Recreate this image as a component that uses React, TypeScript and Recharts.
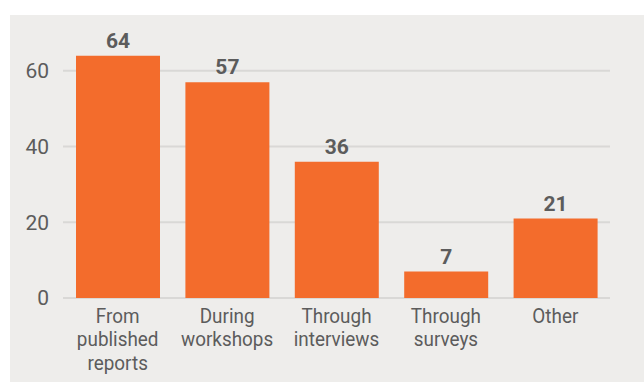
import React from 'react';
import { BarChart, Bar, XAxis, YAxis, CartesianGrid, LabelList } from 'recharts';

const categories = ['From published reports', 'During workshops', 'Through interviews', 'Through surveys', 'Other'];
const categoryLines = [
  ['From', 'published', 'reports'],
  ['During', 'workshops'],
  ['Through', 'interviews'],
  ['Through', 'surveys'],
  ['Other'],
];
const counts = [64, 57, 36, 7, 21];
const yTicks = [0, 20, 40, 60];
const yMax = 70;

const FONT = '"Roboto", sans-serif';
const TEXT = '#5c5c5c';

const data = categories.map((name, i) => ({ name, count: counts[i] }));

// category labels are narrow in the original, squeeze them a bit
const CategoryTick = (props: any) => {
  const { x, y, payload } = props;
  const lines = categoryLines[payload.index] || [payload.value];
  return (
    <g transform={`translate(${x},${y}) scale(0.9,1)`}>
      <text x={0} y={0} textAnchor="middle" fill={TEXT} fontSize={21} fontFamily={FONT}>
        {lines.map((l, i) => (
          <tspan key={i} x={0} dy={i === 0 ? 17 : 23.5}>{l}</tspan>
        ))}
      </text>
    </g>
  );
};

// only draw grid lines at the labelled ticks (no line at the domain top)
const gridRows = ({ offset }: any) =>
  yTicks.map((v) => offset.top + offset.height * (1 - v / yMax));

const App: React.FC = () => {
  return (
    <div style={{ position: 'fixed', left: 0, top: 0, width: 644, height: 382, background: '#fff' }}>
      <div style={{ position: 'absolute', left: 10, top: 15, width: 634, height: 367, background: '#eeedeb' }}>
        <BarChart width={634} height={367} data={data} margin={{ top: 18, right: 34, left: 0, bottom: 0 }}>
          <CartesianGrid
            horizontal
            vertical={false}
            horizontalCoordinatesGenerator={gridRows}
            stroke="#d9d8d6"
            strokeWidth={2}
          />
          <XAxis
            dataKey="name"
            axisLine={false}
            tickLine={false}
            interval={0}
            height={84}
            tick={<CategoryTick />}
          />
          <YAxis
            domain={[0, yMax]}
            ticks={yTicks}
            axisLine={false}
            tickLine={false}
            width={53}
            tickMargin={8}
            tick={{ fill: TEXT, fontSize: 21, fontFamily: FONT }}
          />
          <Bar dataKey="count" fill="#f36c2c" barSize={84} isAnimationActive={false}>
            <LabelList
              dataKey="count"
              position="top"
              offset={8}
              fill={TEXT}
              fontSize={21}
              fontWeight="bold"
              fontFamily={FONT}
            />
          </Bar>
        </BarChart>
      </div>
    </div>
  );
};

export default App;
